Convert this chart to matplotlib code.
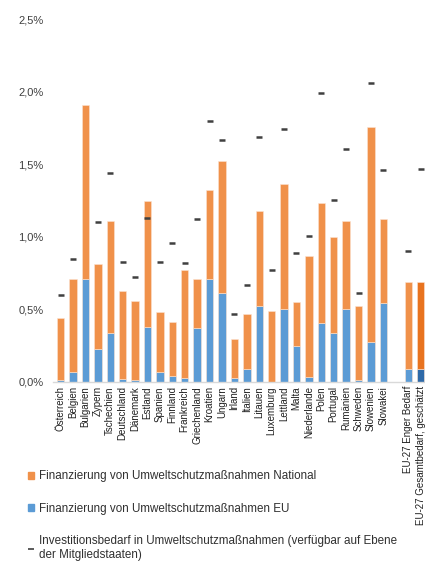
import numpy as np
import matplotlib.pyplot as plt
from matplotlib.patches import Patch
from matplotlib.lines import Line2D

plt.rcParams['font.family'] = ['Liberation Sans', 'DejaVu Sans']

## Data (share of GDP, %)
countries = ["Österreich", "Belgien", "Bulgarien", "Zypern", "Tschechien", "Deutschland",
             "Dänemark", "Estland", "Spanien", "Finnland", "Frankreich", "Griechenland",
             "Kroatien", "Ungarn", "Irland", "Italien", "Litauen", "Luxemburg", "Lettland",
             "Malta", "Niederlande", "Polen", "Portugal", "Rumänien", "Schweden",
             "Slowenien", "Slowakei"]
total = [0.44, 0.71, 1.91, 0.81, 1.11, 0.63, 0.56, 1.25, 0.48, 0.415, 0.77, 0.71,
         1.32, 1.52, 0.295, 0.47, 1.18, 0.49, 1.365, 0.55, 0.87, 1.23, 1.00, 1.11,
         0.525, 1.76, 1.125]
eu = [0.015, 0.07, 0.71, 0.23, 0.34, 0.02, 0.01, 0.38, 0.07, 0.04, 0.03, 0.375,
      0.71, 0.615, 0.03, 0.087, 0.52, 0.0, 0.50, 0.245, 0.037, 0.405, 0.335, 0.50,
      0.014, 0.274, 0.543]
need = [0.60, 0.85, np.nan, 1.105, 1.44, 0.83, 0.72, 1.13, 0.83, 0.96, 0.82, 1.12,
        1.80, 1.67, 0.47, 0.67, 1.685, 0.77, 1.745, 0.89, 1.005, 1.99, 1.255, 1.605,
        0.61, 2.06, 1.46]

eu27_labels = ["EU-27 Enger Bedarf", "EU-27 Gesamtbedarf, geschätzt"]
eu27_total = [0.687, 0.687]
eu27_eu = [0.09, 0.09]
eu27_need = [0.905, 1.47]

yticks = [0.0, 0.5, 1.0, 1.5, 2.0, 2.5]
ytick_labels = ["0,0%", "0,5%", "1,0%", "1,5%", "2,0%", "2,5%"]

orange = "#F0914A"
blue = "#5B9BD5"
orange_dark = "#E8731F"
blue_dark = "#2E6AA8"
grey = "#404040"

####################################################

x = np.arange(len(countries))
x_eu = np.array([len(countries) + 1, len(countries) + 2])

total = np.array(total)
eu = np.array(eu)
national = total - eu
eu27_national = np.array(eu27_total) - np.array(eu27_eu)

fig = plt.figure(figsize=(4.25, 5.65), dpi=100)
ax = fig.add_axes([0.125, 0.324, 0.875, 0.642])

w = 0.6
ax.bar(x, eu, w, color=blue, edgecolor="#fbe3d2", linewidth=0.4)
ax.bar(x, national, w, bottom=eu, color=orange, edgecolor="#fbe3d2", linewidth=0.4)
ax.plot(x, need, linestyle="none", marker="_", markersize=5, mew=1.8, color=grey)

ax.bar(x_eu[0], eu27_eu[0], w, color=blue, edgecolor="#fbe3d2", linewidth=0.4)
ax.bar(x_eu[0], eu27_national[0], w, bottom=eu27_eu[0], color=orange, edgecolor="#fbe3d2", linewidth=0.4)
ax.bar(x_eu[1], eu27_eu[1], w, color=blue_dark, edgecolor="#fbe3d2", linewidth=0.4)
ax.bar(x_eu[1], eu27_national[1], w, bottom=eu27_eu[1], color=orange_dark, edgecolor="#fbe3d2", linewidth=0.4)
ax.plot(x_eu, eu27_need, linestyle="none", marker="_", markersize=5, mew=1.8, color=grey)

ax.set_xlim(-0.6, x_eu[-1] + 0.35)
ax.set_ylim(0, 2.5)
ax.set_yticks(yticks)
ax.set_yticklabels(ytick_labels, fontsize=8, color="#404040")
ax.set_xticks(list(x) + list(x_eu))
ax.set_xticklabels(countries + eu27_labels, rotation=90, fontsize=7, color="#202020")
ax.tick_params(axis="both", length=0)
ax.tick_params(axis="y", pad=7)
ax.tick_params(axis="x", pad=3)
for s in ["top", "right", "left"]:
    ax.spines[s].set_visible(False)
ax.spines["bottom"].set_color("#d9d9d9")
ax.spines["bottom"].set_linewidth(1)

handles = [Patch(color=orange), Patch(color=blue),
           Line2D([], [], linestyle="none", marker="_", markersize=5, mew=1.2, color=grey)]
labels = ["Finanzierung von Umweltschutzmaßnahmen National",
          "Finanzierung von Umweltschutzmaßnahmen EU",
          "Investitionsbedarf in Umweltschutzmaßnahmen (verfügbar auf Ebene\nder Mitgliedstaaten)"]
fig.legend(handles, labels, loc="upper left", bbox_to_anchor=(0.055, 0.176), frameon=False,
           fontsize=8.4, handlelength=0.55, handleheight=0.55, handletextpad=0.35,
           labelspacing=1.75, borderaxespad=0, labelcolor="#303030")

plt.savefig("out.png", dpi=100)
plt.close()
